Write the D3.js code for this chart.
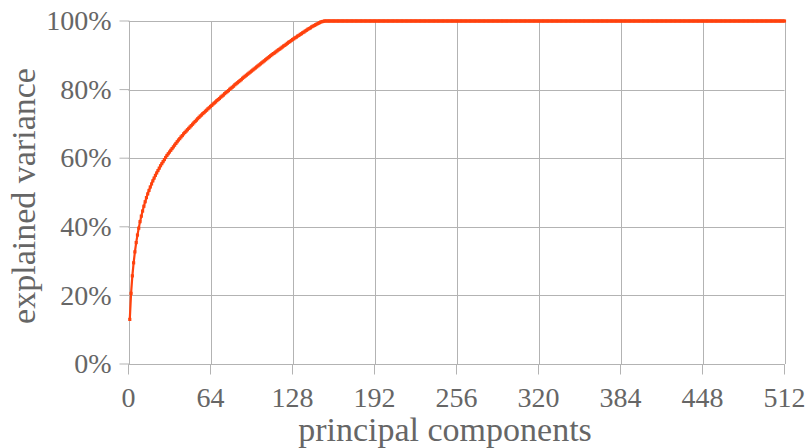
<!DOCTYPE html>
<html>
<head>
<meta charset="utf-8">
<script src="https://cdn.jsdelivr.net/npm/d3@7"></script>
<style>
  html, body { margin: 0; padding: 0; background: #ffffff; }
  svg { display: block; }
  text { font-family: "Liberation Serif", "Times New Roman", serif; fill: #666666; }
</style>
</head>
<body>
<svg id="chart" width="810" height="448"></svg>
<script>
// Cumulative explained variance (%) for principal components 1..512
const varianceHead = [
  13.0, 20.6, 25.7, 29.5, 32.7, 35.4, 37.6, 39.6, 41.5, 43.1,
  44.6, 46.0, 47.3, 48.5, 49.6, 50.6, 51.6, 52.5, 53.4, 54.2,
  55.0, 55.7, 56.4, 57.1, 57.8, 58.4, 59.0, 59.6, 60.2, 60.8,
  61.3, 61.8, 62.3, 62.8, 63.3, 63.8, 64.3, 64.8, 65.3, 65.7,
  66.2, 66.6, 67.1, 67.5, 67.9, 68.3, 68.7, 69.1, 69.5, 69.9,
  70.3, 70.7, 71.1, 71.5, 71.9, 72.3, 72.6, 73.0, 73.3, 73.7,
  74.0, 74.4, 74.7, 75.1, 75.4, 75.8, 76.1, 76.4, 76.8, 77.1,
  77.4, 77.8, 78.1, 78.4, 78.8, 79.1, 79.4, 79.7, 80.1, 80.4,
  80.7, 81.0, 81.4, 81.7, 82.0, 82.3, 82.6, 82.9, 83.3, 83.6,
  83.9, 84.2, 84.5, 84.8, 85.1, 85.4, 85.7, 86.0, 86.3, 86.6,
  86.9, 87.2, 87.5, 87.8, 88.1, 88.4, 88.7, 89.0, 89.3, 89.6,
  89.9, 90.2, 90.5, 90.7, 91.0, 91.3, 91.6, 91.8, 92.1, 92.4,
  92.7, 92.9, 93.2, 93.5, 93.8, 94.0, 94.3, 94.6, 94.8, 95.1,
  95.3, 95.6, 95.8, 96.1, 96.3, 96.6, 96.8, 97.1, 97.3, 97.6,
  97.8, 98.0, 98.3, 98.5, 98.7, 98.9, 99.1, 99.3, 99.5, 99.7,
  99.8, 99.9, 100
];
// Components 154..512: all variance already explained
const varianceTail = [
  100,100,100,100,100,100,100,100,100,100,100,100,100,100,100,100,100,100,100,100,
  100,100,100,100,100,100,100,100,100,100,100,100,100,100,100,100,100,100,100,100,
  100,100,100,100,100,100,100,100,100,100,100,100,100,100,100,100,100,100,100,100,
  100,100,100,100,100,100,100,100,100,100,100,100,100,100,100,100,100,100,100,100,
  100,100,100,100,100,100,100,100,100,100,100,100,100,100,100,100,100,100,100,100,
  100,100,100,100,100,100,100,100,100,100,100,100,100,100,100,100,100,100,100,100,
  100,100,100,100,100,100,100,100,100,100,100,100,100,100,100,100,100,100,100,100,
  100,100,100,100,100,100,100,100,100,100,100,100,100,100,100,100,100,100,100,100,
  100,100,100,100,100,100,100,100,100,100,100,100,100,100,100,100,100,100,100,100,
  100,100,100,100,100,100,100,100,100,100,100,100,100,100,100,100,100,100,100,100,
  100,100,100,100,100,100,100,100,100,100,100,100,100,100,100,100,100,100,100,100,
  100,100,100,100,100,100,100,100,100,100,100,100,100,100,100,100,100,100,100,100,
  100,100,100,100,100,100,100,100,100,100,100,100,100,100,100,100,100,100,100,100,
  100,100,100,100,100,100,100,100,100,100,100,100,100,100,100,100,100,100,100,100,
  100,100,100,100,100,100,100,100,100,100,100,100,100,100,100,100,100,100,100,100,
  100,100,100,100,100,100,100,100,100,100,100,100,100,100,100,100,100,100,100,100,
  100,100,100,100,100,100,100,100,100,100,100,100,100,100,100,100,100,100,100,100,
  100,100,100,100,100,100,100,100,100,100,100,100,100,100,100,100,100,100,100
];
const xTicks = [0, 64, 128, 192, 256, 320, 384, 448, 512];
const yTicks = [0, 20, 40, 60, 80, 100];
const xTitle = "principal components";
const yTitle = "explained variance";

const variance = varianceHead.concat(varianceTail);
const points = variance.map((v, i) => ({ k: i + 1, v }));

const svg = d3.select("#chart");
const plotLeft = 128.5, plotRight = 784.5, plotTop = 21, plotBottom = 364;

const x = d3.scaleLinear().domain([0, 512]).range([plotLeft, plotRight]);
const y = d3.scaleLinear().domain([0, 100]).range([plotBottom, plotTop]);

const gridColor = "#b3b3b3";
const px = v => Math.round(v) + 0.5;

// Grid
const grid = svg.append("g");
grid.selectAll("line.h").data(yTicks).join("line").attr("class", "h")
  .attr("x1", plotLeft).attr("x2", plotRight)
  .attr("y1", d => px(y(d))).attr("y2", d => px(y(d)))
  .attr("stroke", gridColor).attr("stroke-width", 1);
grid.selectAll("line.v").data(xTicks).join("line").attr("class", "v")
  .attr("x1", d => px(x(d))).attr("x2", d => px(x(d)))
  .attr("y1", plotTop).attr("y2", plotBottom)
  .attr("stroke", gridColor).attr("stroke-width", 1);

// Axes
const xAxis = d3.axisBottom(x).tickValues(xTicks).tickSize(10).tickPadding(13)
  .tickFormat(d3.format("d")).offset(0);
const yAxis = d3.axisLeft(y).tickValues(yTicks).tickSize(10).tickPadding(8)
  .tickFormat(d => d + "%").offset(0);

const gx = svg.append("g").attr("transform", `translate(0,${px(plotBottom)})`).call(xAxis);
const gy = svg.append("g").attr("transform", `translate(${px(plotLeft)},0)`).call(yAxis);

[gx, gy].forEach(g => {
  g.select(".domain").remove();
  g.selectAll(".tick line").attr("stroke", gridColor);
  g.selectAll(".tick text")
    .attr("font-family", "Liberation Serif, serif")
    .attr("font-size", 28).attr("fill", "#666666");
});
gx.selectAll(".tick text").attr("dy", "0.71em");
gy.selectAll(".tick text").attr("dy", "0.33em");

// Axis lines
svg.append("line").attr("x1", plotLeft).attr("x2", plotRight)
  .attr("y1", px(plotBottom)).attr("y2", px(plotBottom))
  .attr("stroke", gridColor);
svg.append("line").attr("x1", px(plotLeft)).attr("x2", px(plotLeft))
  .attr("y1", plotTop).attr("y2", plotBottom).attr("stroke", gridColor);

// Titles
svg.append("text").attr("x", 445).attr("y", 441)
  .attr("text-anchor", "middle").attr("font-size", 34).text(xTitle);
svg.append("text")
  .attr("transform", "translate(35,196) rotate(-90)")
  .attr("text-anchor", "middle").attr("font-size", 34).text(yTitle);

// Series
const color = "#ff420e";
const line = d3.line().x(d => x(d.k)).y(d => y(d.v));
svg.append("path").datum(points)
  .attr("d", line).attr("fill", "none")
  .attr("stroke", color).attr("stroke-width", 2.2).attr("stroke-linejoin", "round");

const sym = d3.symbol().type(d3.symbolSquare).size(10);
svg.append("g").selectAll("path").data(points).join("path")
  .attr("transform", d => `translate(${x(d.k)},${y(d.v)})`)
  .attr("d", sym).attr("fill", color);
</script>
</body>
</html>
